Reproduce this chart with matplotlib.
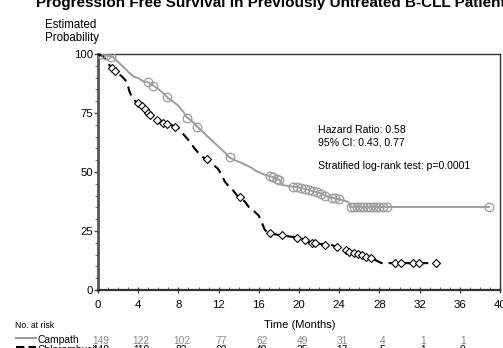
import numpy as np
import matplotlib
matplotlib.use('Agg')
import matplotlib.pyplot as plt
from matplotlib.lines import Line2D
from matplotlib.transforms import blended_transform_factory
from matplotlib import font_manager as fm

plt.rcParams['font.family'] = ['Liberation Sans', 'DejaVu Sans']
_names = {f.name for f in fm.fontManager.ttflist}
NARROW = 'Liberation Sans Narrow' if 'Liberation Sans Narrow' in _names else 'Liberation Sans'

# ---- data ----
campath_t = [0, 1.0, 1.5, 2.0, 2.5, 3.0, 3.5, 4.0, 4.5, 5.0, 5.7, 6.2, 6.7, 7.0, 7.5, 8.0,
             8.5, 8.8, 9.5, 9.8, 10.3, 10.8, 11.3, 11.8, 12.3, 12.8, 13.0, 13.6, 14.2, 14.7,
             15.2, 15.7, 16.2, 16.7, 17.5, 18.1, 18.3, 19.0, 20.0, 20.6, 21.3, 22.0, 22.6,
             23.0, 24.4, 24.9, 25.1]
campath_s = [100, 99.3, 98.7, 96.6, 94.6, 92.5, 90.5, 89.8, 88.5, 88.0, 86.0, 84.5, 82.5,
             81.2, 79.8, 78.0, 75.5, 73.3, 71.0, 69.5, 67.5, 65.5, 63.5, 61.5, 59.5, 57.5,
             56.4, 55.0, 54.0, 53.0, 52.0, 50.5, 49.5, 48.7, 47.8, 46.5, 44.5, 44.0, 43.5,
             42.8, 42.0, 41.2, 40.0, 39.4, 38.0, 37.3, 35.2]
campath_cens = [0.3, 0.8, 1.3, 5.0, 5.5, 6.9, 8.9, 9.9, 13.1, 17.1, 17.4, 17.8, 18.0, 19.4,
                19.8, 20.2, 20.6, 21.0, 21.4, 21.8, 22.2, 22.6, 23.3, 23.6, 24.0, 25.2, 25.5,
                25.8, 26.1, 26.4, 26.8, 27.1, 27.4, 27.7, 28.0, 28.4, 28.8, 38.9]

chl_t = [0, 0.5, 0.8, 1.1, 1.5, 2.0, 2.5, 2.9, 3.1, 3.4, 3.8, 4.6, 4.8, 5.1, 5.4, 5.8, 6.3,
         7.3, 8.0, 8.4, 8.8, 9.2, 9.6, 10.0, 10.4, 11.1, 11.5, 11.9, 12.3, 12.6, 13.0, 13.4,
         13.8, 14.1, 14.6, 15.0, 15.5, 16.0, 16.3, 16.6, 16.9, 18.0, 20.2, 21.0, 22.0, 23.3,
         24.2, 24.6, 25.2, 26.2, 27.0, 27.6, 28.2]
chl_s = [100, 99.0, 97.5, 95.5, 93.5, 91.9, 90.0, 88.0, 84.5, 81.4, 79.7, 77.5, 76.0, 74.5,
         73.0, 72.3, 70.8, 69.9, 68.6, 66.5, 64.5, 62.5, 60.0, 58.0, 56.4, 54.5, 53.0, 51.5,
         49.0, 46.0, 44.0, 42.4, 40.2, 39.4, 37.5, 35.2, 33.5, 31.5, 28.5, 25.5, 24.2, 23.3,
         22.0, 20.3, 19.5, 19.0, 17.5, 17.0, 15.8, 14.8, 13.8, 12.7, 11.4]
chl_cens = [1.4, 1.7, 4.0, 4.4, 4.7, 5.0, 5.2, 5.9, 6.5, 6.9, 7.7, 10.8, 14.1, 17.1, 18.3,
            19.8, 20.6, 21.3, 21.6, 22.6, 23.8, 24.7, 25.0, 25.5, 25.9, 26.3, 26.7, 27.2,
            29.6, 30.1, 31.3, 31.9, 33.6]

risk_times = [0, 4, 8, 12, 16, 20, 24, 28, 32, 36]
campath_risk = [149, 122, 102, 77, 62, 49, 31, 4, 1, 1]
chl_risk = [148, 110, 83, 60, 40, 25, 17, 5, 1, 0]

x_ticks = [0, 4, 8, 12, 16, 20, 24, 28, 32, 36, 40]
y_ticks = [0, 25, 50, 75, 100]

GRAY = '#9c9c9c'

W, H = 503, 348
fig = plt.figure(figsize=(W / 100, H / 100), dpi=100)
ax = fig.add_axes([98 / W, 58 / H, 402 / W, 236 / H])

# Campath
ct = campath_t + [max(campath_cens)]
cs = campath_s + [campath_s[-1]]
ax.plot(ct, cs, color=GRAY, lw=1.4, zorder=3, solid_joinstyle='round')
ax.plot(campath_cens, np.interp(campath_cens, ct, cs), 'o', ms=6.2,
        mfc='none', mec=GRAY, mew=0.9, zorder=4)

# Chlorambucil
kt = chl_t + [max(chl_cens)]
ks = chl_s + [chl_s[-1]]
ax.plot(kt, ks, color='black', lw=1.5, linestyle=(0, (4.5, 2.8)), zorder=3)
ax.plot(chl_cens, np.interp(chl_cens, kt, ks), 'D', ms=4.0,
        mfc='white', mec='black', mew=0.8, zorder=4)

ax.set_xlim(0, 40)
ax.set_ylim(0, 100)
ax.set_xticks(x_ticks)
ax.set_yticks(y_ticks)
ax.set_xticks(np.arange(0, 41, 1), minor=True)
ax.set_yticks(np.arange(0, 101, 5), minor=True)
ax.tick_params(axis='both', which='major', length=3, width=1, color='#444444',
               labelsize=8.2, direction='out')
ax.tick_params(axis='x', which='major', pad=5, direction='inout', length=5)
ax.tick_params(axis='y', which='major', pad=0.5)
ax.tick_params(axis='x', which='minor', length=2, width=0.8, color='#666666', direction='in')
ax.tick_params(axis='y', which='minor', length=2, width=0.8, color='#666666', direction='out')

for side in ['top', 'right']:
    ax.spines[side].set_linewidth(1.0)
    ax.spines[side].set_color('#333333')
ax.spines['left'].set_linewidth(2.0)
ax.spines['left'].set_color('#555555')
ax.spines['bottom'].set_linewidth(1.6)
ax.spines['bottom'].set_color('#333333')

# annotation text
ax.text(21.9, 67.8, 'Hazard Ratio: 0.58', fontsize=7.6, va='center', ha='left')
ax.text(21.9, 62.3, '95% CI: 0.43, 0.77', fontsize=7.6, va='center', ha='left')
ax.text(21.9, 52.5, 'Stratified log-rank test: p=0.0001', fontsize=7.6, va='center', ha='left')

# title (cropped at top in reference)
fig.text(36 / W, 1 - 7 / H, 'Progression Free Survival in Previously Untreated B-CLL Patients',
         fontsize=11, fontweight='bold', va='baseline', ha='left')

# y label
fig.text(45 / W, 1 - 25 / H, 'Estimated', fontsize=8.3, va='center', ha='left')
fig.text(45 / W, 1 - 38 / H, 'Probability', fontsize=8.3, va='center', ha='left')

# x label
fig.text(300 / W, 1 - 325 / H, 'Time (Months)', fontsize=8, va='center', ha='center')

# number at risk table
fig.text(15 / W, 1 - 325 / H, 'No. at risk', fontsize=6.2, va='center', ha='left')
fig.add_artist(Line2D([16 / W, 36 / W], [1 - 338 / H] * 2, color=GRAY, lw=1.5))
fig.text(38 / W, 1 - 340 / H, 'Campath', fontsize=7.4, va='center', ha='left')
fig.add_artist(Line2D([16 / W, 36 / W], [1 - 347 / H] * 2, color='black', lw=1.5,
                      linestyle=(0, (4, 2))))
fig.text(38 / W, 1 - 350 / H, 'Chlorambucil', fontsize=7.4, va='center', ha='left')

tr = blended_transform_factory(ax.transData, fig.transFigure)
for t, n in zip(risk_times, campath_risk):
    fig.text(t + 0.3, 1 - 341 / H, str(n), transform=tr, fontsize=7.4, family=NARROW,
             color='#8a8a8a', va='center', ha='center')
for t, n in zip(risk_times, chl_risk):
    fig.text(t + 0.3, 1 - 350 / H, str(n), transform=tr, fontsize=7.4, family=NARROW,
             color='black', va='center', ha='center')

fig.savefig('out.png', dpi=100)
